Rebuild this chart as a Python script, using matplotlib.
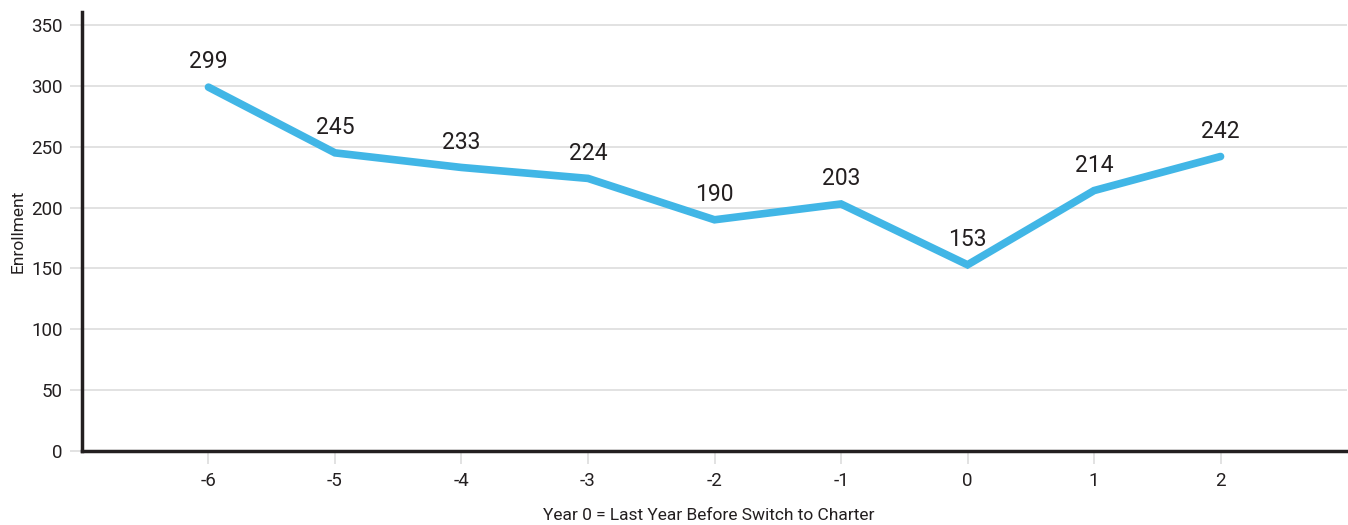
import matplotlib
matplotlib.use('Agg')
import matplotlib.pyplot as plt

# Enrollment by year relative to the charter switch
years = [-6, -5, -4, -3, -2, -1, 0, 1, 2]
enrollment = [299, 245, 233, 224, 190, 203, 153, 214, 242]
y_ticks = [0, 50, 100, 150, 200, 250, 300, 350]

plt.rcParams['font.family'] = ['Roboto', 'DejaVu Sans']

fig = plt.figure(figsize=(13.48, 5.25), dpi=100)
ax = fig.add_axes([0.0608, 0.141, 0.9385, 0.836])

ax.plot(years, enrollment, color='#41b6e6', linewidth=5.5, solid_capstyle='round',
        solid_joinstyle='miter', zorder=3)

for x, y in zip(years, enrollment):
    ax.annotate(f'{y}', (x, y), xytext=(0, 10), textcoords='offset points',
                ha='center', va='bottom', fontsize=16.5, color='#231f20')

ax.set_xlim(-7, 3)
ax.set_ylim(0, 360.7)
ax.set_xticks(years)
ax.set_xticklabels([str(y) for y in years])
ax.set_yticks(y_ticks)

ax.grid(True, axis='y', color='#dddddd', linewidth=1.2, zorder=0)
ax.set_axisbelow(True)

for side in ['top', 'right']:
    ax.spines[side].set_visible(False)
for side in ['left', 'bottom']:
    ax.spines[side].set_color('#231f20')
    ax.spines[side].set_linewidth(2.5)

ax.tick_params(axis='both', colors='#dddddd', labelcolor='#231f20', labelsize=13.5,
               length=9, width=1.2)
ax.tick_params(axis='x', pad=6)
ax.tick_params(axis='y', pad=5)

ax.set_ylabel('Enrollment', fontsize=12.5, color='#231f20', va='center')
ax.yaxis.set_label_coords(-0.0508, 0.5)
ax.set_xlabel('Year 0 = Last Year Before Switch to Charter', fontsize=12.5,
              color='#231f20', va='center')
ax.xaxis.set_label_coords(0.4955, -0.146)

fig.savefig('out.png', dpi=100)
